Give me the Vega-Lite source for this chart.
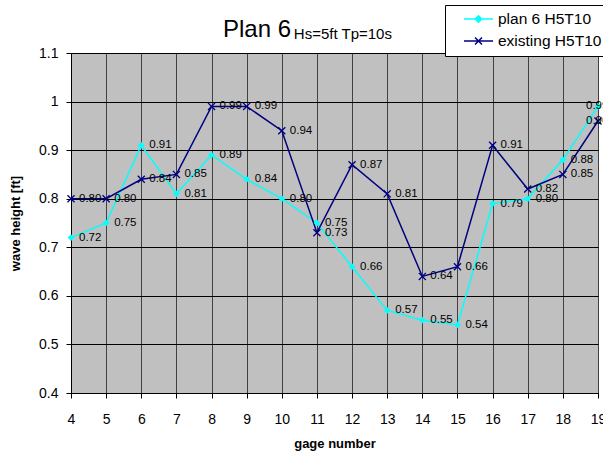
{
  "$schema": "https://vega.github.io/schema/vega-lite/v6.json",
  "width": 527,
  "height": 340,
  "autosize": "none",
  "padding": {"left": 71, "top": 53, "right": 5, "bottom": 67},
  "background": "white",
  "config": {
    "font": "Liberation Sans",
    "view": {"fill": "#c0c0c0", "stroke": "#404040", "strokeWidth": 1}
  },
  "title": {
    "text": "Plan 6",
    "subtitle": "\u200b\u00a0\u00a0\u00a0\u00a0\u00a0\u00a0\u00a0\u00a0\u00a0\u00a0\u00a0\u00a0\u00a0\u00a0\u00a0\u00a0\u00a0Hs=5ft Tp=10s",
    "anchor": "start",
    "frame": "group",
    "dx": 152,
    "dy": 45,
    "offset": 8,
    "font": "Liberation Sans",
    "fontSize": 24,
    "fontWeight": "normal",
    "color": "black",
    "subtitleFont": "Liberation Sans",
    "subtitleFontSize": 15,
    "subtitleColor": "black",
    "subtitlePadding": -15
  },
  "data": {
    "values": [
      {"gage": 4, "series": "plan 6 H5T10", "value": 0.72},
      {"gage": 5, "series": "plan 6 H5T10", "value": 0.75},
      {"gage": 6, "series": "plan 6 H5T10", "value": 0.91},
      {"gage": 7, "series": "plan 6 H5T10", "value": 0.81},
      {"gage": 8, "series": "plan 6 H5T10", "value": 0.89},
      {"gage": 9, "series": "plan 6 H5T10", "value": 0.84},
      {"gage": 10, "series": "plan 6 H5T10", "value": 0.80},
      {"gage": 11, "series": "plan 6 H5T10", "value": 0.75},
      {"gage": 12, "series": "plan 6 H5T10", "value": 0.66},
      {"gage": 13, "series": "plan 6 H5T10", "value": 0.57},
      {"gage": 14, "series": "plan 6 H5T10", "value": 0.55},
      {"gage": 15, "series": "plan 6 H5T10", "value": 0.54},
      {"gage": 16, "series": "plan 6 H5T10", "value": 0.79},
      {"gage": 17, "series": "plan 6 H5T10", "value": 0.80},
      {"gage": 18, "series": "plan 6 H5T10", "value": 0.88},
      {"gage": 19, "series": "plan 6 H5T10", "value": 0.99},
      {"gage": 4, "series": "existing H5T10", "value": 0.80},
      {"gage": 5, "series": "existing H5T10", "value": 0.80},
      {"gage": 6, "series": "existing H5T10", "value": 0.84},
      {"gage": 7, "series": "existing H5T10", "value": 0.85},
      {"gage": 8, "series": "existing H5T10", "value": 0.99},
      {"gage": 9, "series": "existing H5T10", "value": 0.99},
      {"gage": 10, "series": "existing H5T10", "value": 0.94},
      {"gage": 11, "series": "existing H5T10", "value": 0.73},
      {"gage": 12, "series": "existing H5T10", "value": 0.87},
      {"gage": 13, "series": "existing H5T10", "value": 0.81},
      {"gage": 14, "series": "existing H5T10", "value": 0.64},
      {"gage": 15, "series": "existing H5T10", "value": 0.66},
      {"gage": 16, "series": "existing H5T10", "value": 0.91},
      {"gage": 17, "series": "existing H5T10", "value": 0.82},
      {"gage": 18, "series": "existing H5T10", "value": 0.85},
      {"gage": 19, "series": "existing H5T10", "value": 0.96}
    ]
  },
  "encoding": {
    "x": {
      "field": "gage",
      "type": "quantitative",
      "scale": {"domain": [4, 19], "nice": false, "zero": false},
      "axis": {
        "values": [4, 5, 6, 7, 8, 9, 10, 11, 12, 13, 14, 15, 16, 17, 18, 19],
        "title": "gage number",
        "titleFontSize": 13,
        "titleFontWeight": "bold",
        "titleColor": "black",
        "titleX": 263.5,
        "titleY": 50,
        "titleBaseline": "middle",
        "grid": true,
        "gridColor": "#404040",
        "gridOpacity": 1,
        "gridWidth": 1,
        "domainColor": "black",
        "tickColor": "black",
        "tickSize": 5,
        "labelFontSize": 14,
        "labelColor": "black",
        "labelPadding": 14,
        "labelFlush": false,
        "labelOverlap": false
      }
    },
    "y": {
      "field": "value",
      "type": "quantitative",
      "scale": {"domain": [0.4, 1.1], "nice": false, "zero": false},
      "axis": {
        "values": [0.4, 0.5, 0.6, 0.7, 0.8, 0.9, 1.0, 1.1],
        "format": "~g",
        "title": "wave height [ft]",
        "titleFontSize": 13,
        "titleFontWeight": "bold",
        "titleColor": "black",
        "titleX": -56,
        "titleY": 170,
        "titleAngle": -90,
        "titleAlign": "center",
        "titleBaseline": "middle",
        "grid": true,
        "gridColor": "black",
        "gridOpacity": 1,
        "gridWidth": 1,
        "domainColor": "black",
        "tickColor": "black",
        "tickSize": 5,
        "labelFontSize": 14,
        "labelColor": "black",
        "labelPadding": 8,
        "labelFlush": false,
        "labelOverlap": false
      }
    }
  },
  "layer": [
    {
      "mark": {"type": "line", "strokeWidth": 1.5},
      "encoding": {
        "color": {
          "field": "series",
          "type": "nominal",
          "sort": null,
          "scale": {"domain": ["plan 6 H5T10", "existing H5T10"], "range": ["#00ffff", "#000080"]},
          "legend": {
            "title": null,
            "orient": "none",
            "legendX": 374,
            "legendY": -48,
            "fillColor": "white",
            "strokeColor": "black",
            "padding": 6,
            "cornerRadius": 0,
            "labelFont": "Liberation Sans",
            "labelFontSize": 15.5,
            "labelColor": "black",
            "symbolSize": 841,
            "symbolStrokeWidth": 1.5,
            "clipHeight": 16,
            "rowPadding": 5,
            "labelOffset": 4,
            "symbolOffset": 12,
            "encode": {
              "symbols": {
                "update": {
                  "shape": {"signal": "datum.value === 'plan 6 H5T10' ? 'M-1,0L1,0M-0.22,0L0,-0.22L0.22,0L0,0.22Z' : 'M-1,0L1,0M-0.24,-0.24L0.24,0.24M0.24,-0.24L-0.24,0.24'"},
                  "fill": {"signal": "datum.value === 'plan 6 H5T10' ? '#00ffff' : 'transparent'"},
                  "size": {"value": 841}
                }
              }
            }
          }
        }
      }
    },
    {
      "transform": [{"filter": "datum.series === 'plan 6 H5T10'"}],
      "mark": {"type": "point", "shape": "diamond", "filled": true, "color": "#00ffff", "size": 45, "opacity": 1}
    },
    {
      "transform": [{"filter": "datum.series === 'existing H5T10'"}],
      "mark": {"type": "point", "shape": "M-1,-1L1,1M1,-1L-1,1", "filled": false, "stroke": "#000080", "strokeWidth": 1.3, "size": 50, "opacity": 1}
    },
    {
      "transform": [{"filter": "datum.gage < 19"}],
      "mark": {"type": "text", "align": "left", "baseline": "middle", "dx": 8, "fontSize": 11.5, "color": "black"},
      "encoding": {"text": {"field": "value", "type": "quantitative", "format": ".2f"}}
    },
    {
      "transform": [{"filter": "datum.gage == 19"}],
      "mark": {"type": "text", "align": "left", "baseline": "middle", "dx": -12, "fontSize": 11.5, "color": "black"},
      "encoding": {"text": {"field": "value", "type": "quantitative", "format": ".2f"}}
    }
  ]
}
